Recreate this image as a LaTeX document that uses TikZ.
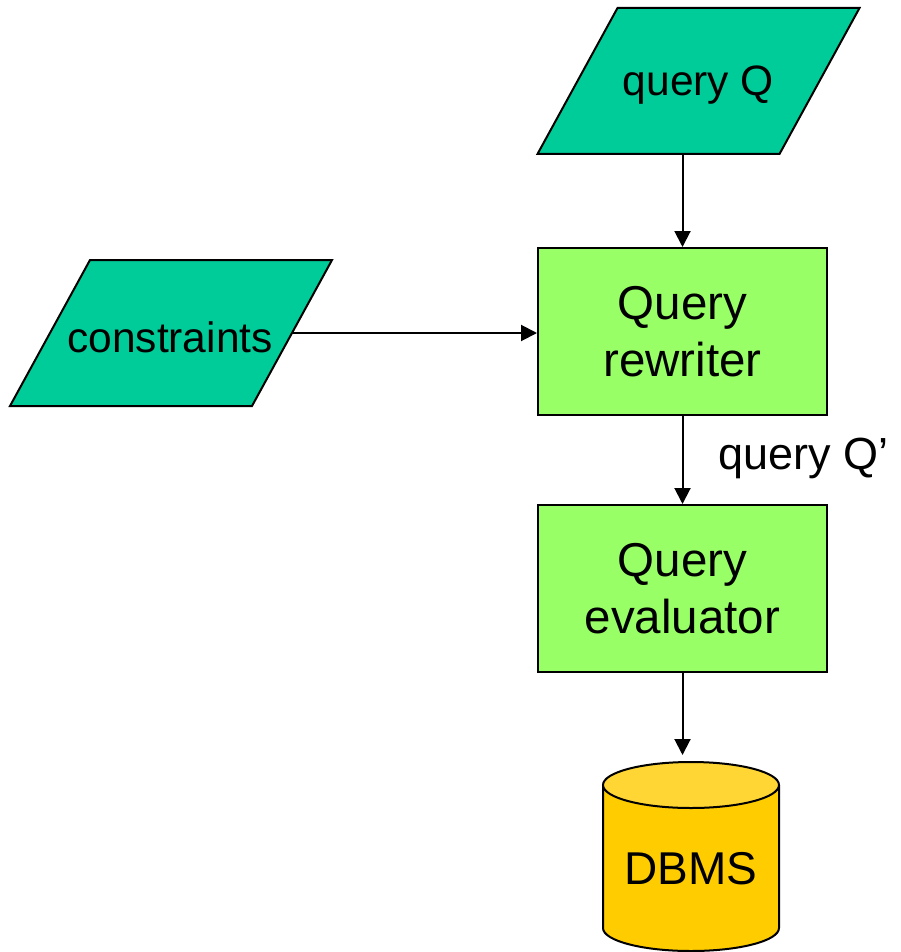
\documentclass[tikz,border=0pt]{standalone}
\usepackage{fontspec}
\setmainfont{Liberation Sans}
\usetikzlibrary{arrows.meta,calc,backgrounds}
\definecolor{tealfill}{HTML}{00CC99}
\definecolor{greenfill}{HTML}{99FF66}
\definecolor{goldbody}{HTML}{FFCC00}
\definecolor{goldtop}{HTML}{FFD633}
\begin{document}
\begin{tikzpicture}[x=1pt,y=-1pt,line width=2pt,
  txt/.style={font=\fontsize{42.5}{56}\selectfont, align=center, inner sep=0pt},
  bigtxt/.style={font=\fontsize{47.5}{57}\selectfont, align=center, inner sep=0pt},
  procbox/.style={draw, fill=greenfill, minimum width=289pt, minimum height=167pt, bigtxt},
  paragram/.style={minimum width=320pt, minimum height=144pt, inner sep=0pt},
  paraoutline/.style={draw, fill=tealfill},
  arr/.style={-{Triangle[length=16pt,width=16pt]}}]
\useasboundingbox (0,0) rectangle (901,952);

% input parallelograms
\node[paragram] (qq) at (698.5,81) {};
\node[paragram] (cons) at (171,333) {};
\draw[paraoutline] ($(qq.north west)+(80,0)$) -- (qq.north east) -- ($(qq.south east)+(-80,0)$) -- (qq.south west) -- cycle;
\draw[paraoutline] ($(cons.north west)+(80,0)$) -- (cons.north east) -- ($(cons.south east)+(-80,0)$) -- (cons.south west) -- cycle;
\node[txt] (qqt) at ($(qq.center)+(0,4)$) {query Q};
\node[txt] (const) at ($(cons.center)+(-1,4)$) {constraints};

% process boxes
\node[procbox] (rw) at (682.5,331.5) {Query\\rewriter};
\node[procbox] (ev) at (682.5,588.5) {Query\\evaluator};

% DBMS cylinder
\fill[goldbody] (603,785) -- (603,928) arc[start angle=180,end angle=360,x radius=88pt,y radius=23pt] -- (779,785) -- cycle;
\draw (603,785) -- (603,928) arc[start angle=180,end angle=360,x radius=88pt,y radius=23pt] -- (779,785);
\draw[fill=goldtop] (691,785) ellipse[x radius=88pt,y radius=23pt];
\node[txt, font=\fontsize{46}{56}\selectfont] (db) at (691,869) {DBMS};
\coordinate (dbtop) at (682.5,755);

% connectors
\draw[arr] (qq.south -| rw.north) -- (rw.north);
\draw[arr] ($(cons.east)+(-40,0)$) -- (cons.east -| rw.west);
\draw[arr] (rw.south) -- (ev.north);
\draw[arr] (ev.south) -- (dbtop);

% label
\node[txt, font=\fontsize{45}{56}\selectfont, anchor=west] (ql) at (717,458) {query Q’};
\end{tikzpicture}
\end{document}
